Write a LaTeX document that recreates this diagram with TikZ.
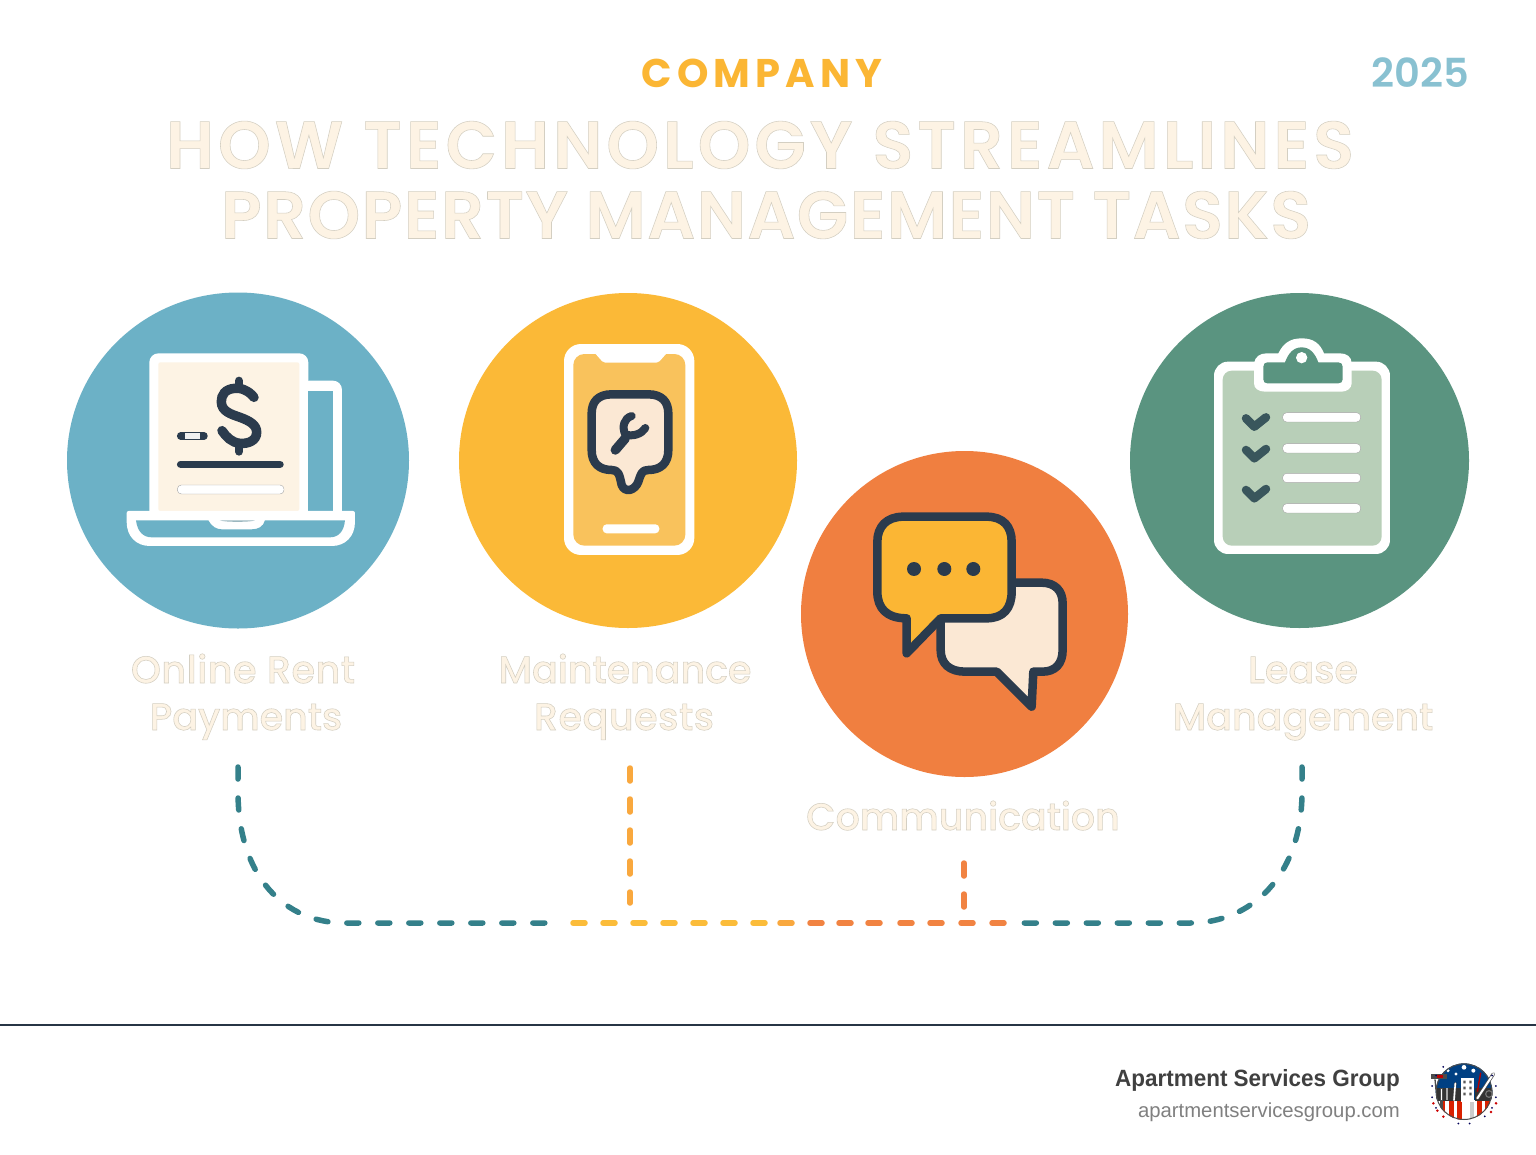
\documentclass[tikz,border=0pt]{standalone}
\usepackage{fontspec}
\usetikzlibrary{shapes.geometric}
\setmainfont{Liberation Sans}
\newfontfamily\brandfont[FakeStretch=0.956]{Liberation Sans}
\newfontfamily\popfont[LetterSpace=13]{Poppins}
\newfontfamily\popplain{Poppins}
\newfontfamily\popmed{Poppins Medium}
\newfontfamily\popsemi{Poppins SemiBold}
\newcommand{\outl}[1]{\special{pdf:literal direct 2 Tr 0.55 w 0.83 0.81 0.76 RG}#1\special{pdf:literal direct 0 Tr}}
\newcommand{\sps}[1]{\addfontfeature{LetterSpace=#1}}
\definecolor{ink}{HTML}{2B3B4D}
\definecolor{cream}{HTML}{FDF3E4}
\definecolor{peach}{HTML}{FBE8D4}
\definecolor{cblue}{HTML}{6CB1C6}
\definecolor{cyellow}{HTML}{FBB937}
\definecolor{corange}{HTML}{F07F40}
\definecolor{cgreen}{HTML}{5A9480}
\definecolor{teal}{HTML}{34808A}
\definecolor{dyellow}{HTML}{FBBC3A}
\definecolor{dorange}{HTML}{F18342}
\definecolor{vyellow}{HTML}{F9A83E}
\definecolor{paleg}{HTML}{B8CFB8}
\definecolor{phonein}{HTML}{F9C25C}
\tikzset{
  disc/.style={ellipse,inner sep=0pt,draw=none},
  labeltxt/.style={font=\popmed\fontsize{38}{44}\selectfont,text=cream,anchor=base,inner sep=0pt},
  titletxt/.style={font=\popsemi\fontsize{67}{71}\selectfont,text=cream,align=center,inner sep=0pt},
  tealdash/.style={draw=teal,line width=5.5pt,line cap=round,dash pattern=on 12pt off 19pt},
  ydash/.style={draw=#1,line width=5.5pt,line cap=round,dash pattern=on 13pt off 18pt},
  pill/.style={fill=white,draw=black!35,line width=.4pt,rounded corners=4pt},
}
\begin{document}
\begin{tikzpicture}[x=1pt,y=-1pt]
\useasboundingbox (0,0) rectangle (1536,1154);
\fill[white] (0,0) rectangle (1536,1154);

% header
\node[inner sep=0pt,text=cyellow!95!orange,font=\popfont\bfseries\fontsize{40}{44}\selectfont] (company) at (762,73) {COMPANY};
\node[inner sep=0pt,text=cblue!80!white,font=\popsemi\fontsize{40}{44}\selectfont] (year) at (1420,73) {2025};
\node[titletxt] (title1) at (760,145) {\sps{6}\outl{HOW TECHNOLOGY STREAMLINES}};
\node[titletxt] (title2) at (766,215) {\sps{2.2}\outl{PROPERTY MANAGEMENT TASKS}};

% circles
\node[disc,fill=cblue,minimum width=342pt,minimum height=336pt] (c1) at (238,460.5) {};
\node[disc,fill=cyellow,minimum width=338pt,minimum height=335pt] (c2) at (628,460.5) {};
\node[disc,fill=corange,minimum width=327pt,minimum height=326pt] (c3) at (964.5,614) {};
\node[disc,fill=cgreen,minimum width=339pt,minimum height=335pt] (c4) at (1299.5,460.5) {};

% laptop icon
\begin{scope}[shift={(100,320)},x=0.3333pt,y=-0.3333pt]
  \fill[white,rounded corners=9pt] (148,600) -- (148,100) -- (625,100) -- (625,600) -- cycle;
  \fill[white,rounded corners=9pt] (600,600) -- (600,182) -- (726,182) -- (726,600) -- cycle;
  \fill[cblue] (625,212) -- (698,212) -- (698,573) -- (625,573) -- cycle;
  \fill[cream,rounded corners=2pt] (175,127) rectangle (598,573);
  \fill[white,rounded corners=2pt] (80,573) -- (765,573) -- (765,600) .. controls (765,650) and (735,678) .. (690,678) -- (155,678) .. controls (110,678) and (80,650) .. (80,600) -- cycle;
  \fill[cblue] (108,601) -- (325,601) .. controls (335,620) and (350,628) .. (365,628) -- (455,628) .. controls (475,628) and (490,620) .. (495,601) -- (735,601) .. controls (732,635) and (715,652) .. (690,652) -- (155,652) .. controls (130,652) and (112,635) .. (108,601) -- cycle;
  \fill[cblue!70!black!55!white] (360,601) -- (465,601) .. controls (455,607) and (370,607) .. (360,601) -- cycle;
  \draw[ink,line width=9.5pt,line cap=round] (462,232) .. controls (445,210) and (420,203) .. (405,205) .. controls (375,207) and (364,225) .. (364,245) .. controls (364,275) and (395,283) .. (420,292) .. controls (450,303) and (470,315) .. (470,337) .. controls (470,362) and (445,372) .. (420,370) .. controls (395,368) and (378,350) .. (366,332);
  \draw[ink,line width=8pt,line cap=round] (417,182) -- (417,200) (417,375) -- (417,395);
  \draw[ink,line width=7.5pt,line cap=round] (242,348) -- (312,348);
  \fill[black!6] (255,340) rectangle (300,357);
  \draw[ink,line width=7.5pt,line cap=round] (242,433) -- (540,433);
  \draw[pill,rounded corners=4pt] (232,495) rectangle (552,522);
\end{scope}

% phone icon
\begin{scope}[shift={(540,330)},x=0.3333pt,y=-0.3333pt]
  \fill[white,rounded corners=17pt] (72,42) rectangle (463,675);
  \fill[phonein,rounded corners=11pt] (100,72) rectangle (436,647);
  \fill[white,rounded corners=2pt] (160,64) -- (190,98) -- (355,98) -- (385,64) -- cycle;
  \fill[white,rounded corners=4pt] (188,583) rectangle (358,610);
  \draw[ink,line width=8.5pt,line join=round,fill=peach] (215,193) -- (325,193) .. controls (365,193) and (385,215) .. (385,250) -- (385,360) .. controls (385,400) and (362,420) .. (325,420) .. controls (305,420) and (303,432) .. (295,455) .. controls (285,482) and (255,490) .. (245,465) .. controls (238,432) and (235,420) .. (215,420) .. controls (178,420) and (155,400) .. (155,360) -- (155,250) .. controls (155,215) and (175,193) .. (215,193) -- cycle;
  \draw[ink,line width=9.5pt,line cap=round] (226,360) -- (256,325);
  \draw[ink,line width=8pt,line cap=round,line join=round] (275,258) .. controls (252,265) and (245,290) .. (256,314) .. controls (280,320) and (305,312) .. (316,294);
\end{scope}

% chat icon
\begin{scope}[shift={(850,490)},x=0.3333pt,y=-0.3333pt]
  \draw[ink,line width=8.5pt,line join=round,fill=peach] (470,278) -- (575,278) .. controls (615,278) and (638,302) .. (638,340) -- (638,480) .. controls (638,522) and (615,545) .. (578,545) -- (550,545) -- (545,650) -- (440,545) -- (345,545) .. controls (300,545) and (272,522) .. (272,480) -- (272,380) -- cycle;
  \draw[ink,line width=8.5pt,line join=round,fill=cyellow!95!orange] (160,80) -- (410,80) .. controls (460,80) and (485,110) .. (485,155) -- (485,305) .. controls (485,355) and (460,385) .. (410,385) -- (272,385) -- (170,490) -- (170,385) .. controls (110,385) and (82,355) .. (82,305) -- (82,155) .. controls (82,110) and (110,80) .. (160,80) -- cycle;
  \fill[ink] (192,237) circle[radius=21] (283,237) circle[radius=21] (370,237) circle[radius=21];
\end{scope}

% clipboard icon
\begin{scope}[shift={(1190,320)},x=0.3333pt,y=-0.3333pt]
  \fill[white,rounded corners=14pt] (72,125) rectangle (600,702);
  \fill[paleg,rounded corners=9pt] (98,152) rectangle (575,677);
  \fill[white] (192,130) .. controls (195,110) and (210,100) .. (230,100) -- (265,100) .. controls (280,70) and (300,55) .. (335,55) .. controls (370,55) and (390,70) .. (402,100) -- (450,100) .. controls (470,100) and (485,110) .. (485,130) -- (485,190) .. controls (485,205) and (470,215) .. (455,215) -- (225,215) .. controls (205,215) and (192,205) .. (192,190) -- cycle;
  \fill[cgreen] (220,140) .. controls (220,132) and (225,127) .. (232,127) -- (285,127) .. controls (295,100) and (310,82) .. (335,82) .. controls (360,82) and (375,100) .. (385,127) -- (445,127) .. controls (453,127) and (458,132) .. (458,140) -- (458,178) .. controls (458,186) and (453,190) .. (445,190) -- (232,190) .. controls (225,190) and (220,186) .. (220,178) -- cycle;
  \fill[white] (335,113) circle[radius=17];
  \foreach \yy in {292,385,474,565}{
    \draw[pill] (278,\yy-14) rectangle (512,\yy+14);
  }
  \foreach \yy in {310,405,525}{
    \draw[ink!70!cgreen,line width=8.5pt,line cap=round,line join=round] (168,\yy-15) -- (193,\yy+10) -- (228,\yy-18);
  }
\end{scope}

% labels
\node[labeltxt] (l1a) at (243,683) {\sps{1.5}\outl{Online Rent}};
\node[labeltxt] (l1b) at (246,730) {\outl{Payments}};
\node[labeltxt] (l2a) at (625,683) {\outl{Maintenance}};
\node[labeltxt] (l2b) at (624,730) {\sps{1.5}\outl{Requests}};
\node[labeltxt] (l3) at (963,830) {\outl{Communication}};
\node[labeltxt] (l4a) at (1303,683) {\outl{Lease}};
\node[labeltxt] (l4b) at (1303,730) {\outl{Management}};

% connectors
\coordinate (a1) at (238,767);
\coordinate (a1c) at (345,923);
\coordinate (a1e) at (558,923);
\coordinate (a2) at (630,768);
\coordinate (a2e) at (630,903);
\coordinate (a3) at (964,863);
\coordinate (a3e) at (964,908);
\coordinate (a4) at (1302,767);
\coordinate (a4c) at (1190,923);
\coordinate (a4e) at (1024,923);
\path[tealdash] (a1) -- ++(0,25) .. controls +(0,85) and (285,923) .. (a1c) -- (a1e);
\path[tealdash] (a4) -- ++(0,25) .. controls +(0,85) and (1250,923) .. (a4c) -- (a4e);
\path[ydash=vyellow] (a2) -- (a2e);
\path[ydash=dorange] (a3) -- (a3e);
\foreach \xx in {579,609,639,669,699,729,759}{
  \draw[dyellow,line width=5.5pt,line cap=round] (\xx-6,923) -- (\xx+6,923);
}
\draw[vyellow,line width=5.5pt,line cap=round] (780,923) -- (792,923);
\foreach \xx in {816,845,874,906,936,967,998}{
  \draw[dorange,line width=5.5pt,line cap=round] (\xx-6,923) -- (\xx+6,923);
}

% footer
\coordinate (ruleL) at (0,1025);
\coordinate (ruleR) at (1536,1025);
\draw[ink!90!black,line width=2.6pt] (ruleL) -- (ruleR);
\node[anchor=east,inner sep=0pt,text=black!75,font=\brandfont\bfseries\fontsize{23.5}{26}\selectfont] (brand) at (1400,1080) {Apartment Services Group};
\node[anchor=east,inner sep=0pt,text=black!50,font=\fontsize{20.3}{24}\selectfont] (site) at (1400,1112) {apartmentservicesgroup.com};

% logo
\begin{scope}[shift={(1420,1050)},x=0.3333pt,y=-0.3333pt]
  \begin{scope}
    \clip (132,125) circle[radius=85];
    \fill[white] (40,30) rectangle (230,220);
    \fill[blue!35!black!75!cyan] (40,30) rectangle (230,150);
    \foreach \xx in {62,88,112,172,196}{ \fill[red!70!orange!85!black] (\xx,150) rectangle +(13,70); }
    \fill[black!20] (150,150) rectangle +(11,70);
    \fill[black!80] (48,115) rectangle (125,152);
    \fill[black!80] (165,115) rectangle (222,152);
    \fill[white] (124,84) rectangle (162,156);
    \fill[black!65] (130,92) rectangle (137,100) (148,92) rectangle (155,100) (130,110) rectangle (137,118) (148,110) rectangle (155,118) (130,128) rectangle (137,136) (148,128) rectangle (155,136);
    \draw[black!70,line width=2.6pt,line cap=round] (102,150) -- (106,100);
    \draw[white,line width=1.6pt,line cap=round] (102,150) -- (106,100);
    \draw[black!70,line width=2.4pt] (65,115) -- (65,180);
    \draw[white,line width=.9pt] (65,118) -- (65,150);
    \draw[red!70!black,line width=1.4pt] (172,125) -- (182,68);
    \draw[black!35,line width=1.8pt] (82,115) -- (82,150);
    \fill[white] (84,62) circle[radius=5] (108,72) circle[radius=5] (132,52) circle[radius=7] (160,62) circle[radius=6];
    \draw[black!70,line width=2pt] (132,125) circle[radius=85];
  \end{scope}
  \fill[black!70] (32,72) rectangle (82,88);
  \fill[red!75!black] (50,75) rectangle (70,85);
  \draw[black!70,line width=1.3pt] (45,88) -- (48,120);
  \draw[black!70,line width=3.4pt,line cap=round] (172,145) -- (220,72);
  \draw[white,line width=2pt,line cap=round] (172,145) -- (220,72);
  \draw[black!55,line width=1.2pt] (207,132) circle[radius=10];
  \begin{scope}[shift={(132,125)}]
  \foreach \a in {150,170,190,210,230,-30,-10,10,30,100,80,50}{
    \fill[blue!35!black] (\a:97) circle[radius=3];
  }
  \end{scope}
  \foreach \p in {(40,160),(52,182),(228,160),(213,186),(70,200)}{
    \fill[red!80!black] \p circle[radius=4.2];
  }
\end{scope}
\end{tikzpicture}
\end{document}
